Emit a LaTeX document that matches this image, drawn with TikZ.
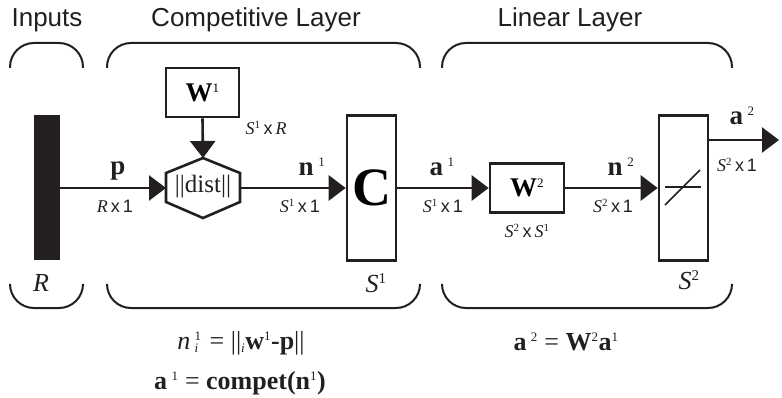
\documentclass[tikz,border=0pt]{standalone}
\usepackage{fontspec}
\setmainfont{Liberation Serif}
\setsansfont{Liberation Sans}
\usetikzlibrary{arrows.meta}
\definecolor{ink}{HTML}{231F20}
\newcommand\sups[1]{\textsuperscript{\fontsize{13}{13}\selectfont\mdseries\upshape #1}}
\newcommand\dimlab[3]{\textit{#1}\textsuperscript{\fontsize{11}{11}\selectfont #2}\,{\sffamily x\,#3}}
\begin{document}
\begin{tikzpicture}[x=1pt,y=-1pt,
  box/.style={draw=ink, line width=2.6pt, fill=white, inner sep=0pt},
  conn/.style={draw=ink, line width=2.6pt, -{Triangle[length=17pt,width=25pt]}},
  brace/.style={draw=ink, line width=2pt, rounded corners=24pt},
  title/.style={font=\sffamily\fontsize{26}{26}\selectfont, text=ink},
  dimtxt/.style={font=\fontsize{18}{18}\selectfont, text=ink, inner sep=0pt},
  vlab/.style={font=\bfseries\fontsize{27}{27}\selectfont, text=ink, inner sep=0pt},
  eq/.style={font=\fontsize{26}{26}\selectfont, text=ink, inner sep=0pt}]
\useasboundingbox (0,0) rectangle (782,398);
% titles
\node[title] (tIn) at (47,20) {Inputs};
\node[title] (tComp) at (256,20) {Competitive Layer};
\node[title] (tLin) at (570,20) {Linear Layer};
% braces top
\draw[brace] (10,68) -- (10,43) -- (83,43) -- (83,68);
\draw[brace] (107,68) -- (107,43) -- (420,43) -- (420,68);
\draw[brace] (442,68) -- (442,43) -- (732,43) -- (732,68);
% braces bottom
\draw[brace] (10,285) -- (10,308) -- (83,308) -- (83,285);
\draw[brace] (107,285) -- (107,308) -- (420,308) -- (420,285);
\draw[brace] (442,285) -- (442,308) -- (732,308) -- (732,285);
% input bar
\node[fill=ink, minimum width=26pt, minimum height=145pt, inner sep=0pt] (bar) at (47,188) {};
% W1 box
\node[box, minimum width=73pt, minimum height=49pt, font=\bfseries\fontsize{27}{27}\selectfont] (W1) at (202.5,92.5) {W\sups{1}};
% hexagon
\coordinate (hexL) at (166,188);
\coordinate (hexR) at (240,188);
\coordinate (hexT) at (203,158);
\draw[ink, line width=2.6pt, fill=white, line join=miter] (166,173) -- (203,158) -- (240,173) -- (240,202) -- (203,218) -- (166,202) -- cycle;
\node[font=\fontsize{25}{25}\selectfont, text=ink, inner sep=0pt] (dist) at (203,187) {||dist||};
% C box
\node[box, minimum width=49pt, minimum height=145pt, font=\bfseries\fontsize{54}{54}\selectfont] (C) at (371.5,188) {C};
% W2 box
\node[box, minimum width=74pt, minimum height=49pt, font=\bfseries\fontsize{27}{27}\selectfont] (W2) at (527,188) {W\sups{2}};
% linear box
\node[box, minimum width=49pt, minimum height=145pt] (Lin) at (683.5,188) {};
\draw[ink, line width=1.6pt] (665,187) -- (701,187);
\draw[ink, line width=1.6pt] (665,205) -- (700,170);
% output end
\coordinate (out) at (779,140);
% connectors
\draw[conn] (bar.east) -- (hexL);
\draw[conn] (W1.south) -- (hexT);
\draw[conn] (hexR) -- (C.west);
\draw[conn] (C.east) -- (W2.west);
\draw[conn] (W2.east) -- (Lin.west);
\draw[conn] (Lin.east |- out) -- (out);
% vector labels
\node[vlab] (lp) at (118,171) {p};
\node[vlab] (ln1) at (312,167) {n\,\sups{1}};
\node[vlab] (la1) at (442,167) {a\,\sups{1}};
\node[vlab] (ln2) at (621,167) {n\,\sups{2}};
\node[vlab] (la2) at (742,116) {a\,\sups{2}};
% dimension labels
\node[dimtxt] (dRx1) at (115,206) {\textit{R}\,{\sffamily x\,1}};
\node[dimtxt] (dS1R) at (266,128) {\dimlab{S}{1}{\textit{\rmfamily R}}};
\node[dimtxt] (dS1a) at (300,206) {\dimlab{S}{1}{1}};
\node[dimtxt] (dS1b) at (443,206) {\dimlab{S}{1}{1}};
\node[dimtxt] (dS2S1) at (527,231) {\textit{S}\textsuperscript{\fontsize{11}{11}\selectfont 2}\,{\sffamily x}\,\textit{S}\textsuperscript{\fontsize{11}{11}\selectfont 1}};
\node[dimtxt] (dS2a) at (613,206) {\dimlab{S}{2}{1}};
\node[dimtxt] (dS2b) at (737,165) {\dimlab{S}{2}{1}};
% size labels
\node[eq, font=\itshape\fontsize{26}{26}\selectfont] (sR) at (41,283) {R};
\node[eq] (sS1) at (376,283) {\textit{S}\textsuperscript{\fontsize{15}{15}\selectfont 1}};
\node[eq] (sS2) at (689,280) {\textit{S}\textsuperscript{\fontsize{15}{15}\selectfont 2}};
% equations
\node[eq] (eq1) at (241,343) {\textit{n}\,\rlap{\sups{1}}\textsubscript{\fontsize{13}{13}\selectfont\textit{i}}\, = ||\textsubscript{\fontsize{13}{13}\selectfont\textit{i}}\textbf{w}\sups{1}\textbf{-p}||};
\node[eq] (eq2) at (240,383) {\textbf{a}\,\sups{1} = \textbf{compet(n}\sups{1}\textbf{)}};
\node[eq] (eq3) at (566,342) {\textbf{a}\,\sups{2} = \textbf{W}\sups{2}\textbf{a}\sups{1}};
\end{tikzpicture}
\end{document}
